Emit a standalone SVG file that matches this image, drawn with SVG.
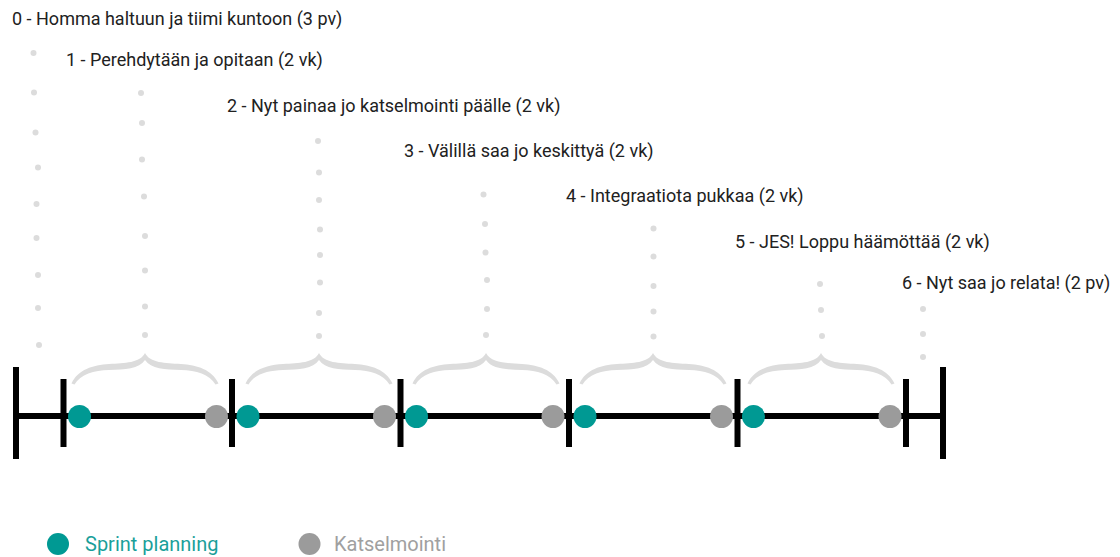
<svg xmlns="http://www.w3.org/2000/svg" width="1120" height="557" viewBox="0 0 1120 557">
  <style>
    .label { font-family: Roboto, "Liberation Sans", sans-serif; font-size: 18px; fill: #212121; }
    .legend { font-family: Roboto, "Liberation Sans", sans-serif; font-size: 20px; }
    .bar { stroke: #000; stroke-width: 6; fill: none; }
    .brace { fill: #dcdcdc; stroke: none; }
    .dot { fill: #dcdcdc; }
    .plan { fill: #009993; }
    .review { fill: #9b9b9b; }
  </style>
  <defs>
    <!-- tapered curly brace centred on x=0, spanning ~147px -->
    <path id="brace" d="M-73.5,383.5 C-67,369.5 -52,365 -36,364 C-20,363 -5,363 0,353
      C5,363 20,363 36,364 C52,365 67,369.5 73.5,383.5 L70.5,384.5
      C64.5,374 51,370.5 36,370 C20,369.5 6,369 0,360
      C-6,369 -20,369.5 -36,370 C-51,370.5 -64.5,374 -70.5,384.5 Z"/>
  </defs>

  <rect width="1120" height="557" fill="#fff"/>

  <!-- timeline axis and sprint boundaries -->
  <g id="connectors">
    <line class="bar" x1="16" y1="416" x2="943" y2="416"/>
    <line class="bar" x1="16" y1="367" x2="16" y2="459"/>
    <line class="bar" x1="943" y1="367" x2="943" y2="459"/>
    <line class="bar" x1="63.5" y1="379" x2="63.5" y2="447"/>
    <line class="bar" x1="232" y1="379" x2="232" y2="447"/>
    <line class="bar" x1="400.5" y1="379" x2="400.5" y2="447"/>
    <line class="bar" x1="569" y1="379" x2="569" y2="447"/>
    <line class="bar" x1="737.5" y1="379" x2="737.5" y2="447"/>
    <line class="bar" x1="906" y1="379" x2="906" y2="447"/>
  </g>

  <!-- sprints: planning (teal) and review (grey) with brace -->
  <g id="sprint-1">
    <use href="#brace" class="brace" x="145"/>
    <circle class="plan" cx="79.5" cy="416.5" r="11.5"/>
    <circle class="review" cx="216.5" cy="416.5" r="11.5"/>
  </g>
  <g id="sprint-2">
    <use href="#brace" class="brace" x="319"/>
    <circle class="plan" cx="248" cy="416.5" r="11.5"/>
    <circle class="review" cx="384.5" cy="416.5" r="11.5"/>
  </g>
  <g id="sprint-3">
    <use href="#brace" class="brace" x="486"/>
    <circle class="plan" cx="416.5" cy="416.5" r="11.5"/>
    <circle class="review" cx="553" cy="416.5" r="11.5"/>
  </g>
  <g id="sprint-4">
    <use href="#brace" class="brace" x="653"/>
    <circle class="plan" cx="585" cy="416.5" r="11.5"/>
    <circle class="review" cx="721.5" cy="416.5" r="11.5"/>
  </g>
  <g id="sprint-5">
    <use href="#brace" class="brace" x="821"/>
    <circle class="plan" cx="753.5" cy="416.5" r="11.5"/>
    <circle class="review" cx="890" cy="416.5" r="11.5"/>
  </g>

  <!-- phase labels with dotted leaders -->
  <g id="phase-0">
    <text class="label" x="12" y="25">0 - Homma haltuun ja tiimi kuntoon (3 pv)</text>
    <g class="dot">
      <circle cx="33.5" cy="53" r="3"/><circle cx="34" cy="92.5" r="3"/><circle cx="35.5" cy="132.5" r="3"/>
      <circle cx="38" cy="167.5" r="3"/><circle cx="36.5" cy="204" r="3"/><circle cx="36.5" cy="238" r="3"/>
      <circle cx="38" cy="275" r="3"/><circle cx="38" cy="308" r="3"/><circle cx="39" cy="345" r="3"/>
    </g>
  </g>
  <g id="phase-1">
    <text class="label" x="66" y="66">1 - Perehdytään ja opitaan (2 vk)</text>
    <g class="dot">
      <circle cx="141" cy="93" r="3"/><circle cx="142" cy="123" r="3"/><circle cx="142" cy="159.5" r="3"/>
      <circle cx="144" cy="196.5" r="3"/><circle cx="145" cy="236" r="3"/><circle cx="145" cy="270.5" r="3"/>
      <circle cx="145" cy="306.5" r="3"/><circle cx="145" cy="335" r="3"/>
    </g>
  </g>
  <g id="phase-2">
    <text class="label" x="227" y="112">2 - Nyt painaa jo katselmointi päälle (2 vk)</text>
    <g class="dot">
      <circle cx="318" cy="141" r="3"/><circle cx="319" cy="172.5" r="3"/><circle cx="319" cy="200" r="3"/>
      <circle cx="320" cy="229.5" r="3"/><circle cx="320" cy="255" r="3"/><circle cx="320" cy="282.5" r="3"/>
      <circle cx="319" cy="313" r="3"/><circle cx="319" cy="336" r="3"/>
    </g>
  </g>
  <g id="phase-3">
    <text class="label" x="404" y="157">3 - Välillä saa jo keskittyä (2 vk)</text>
    <g class="dot">
      <circle cx="483.5" cy="194.5" r="3"/><circle cx="485" cy="224" r="3"/><circle cx="485.5" cy="252.5" r="3"/>
      <circle cx="487" cy="280" r="3"/><circle cx="487" cy="309" r="3"/><circle cx="486" cy="335" r="3"/>
    </g>
  </g>
  <g id="phase-4">
    <text class="label" x="566" y="202">4 - Integraatiota pukkaa (2 vk)</text>
    <g class="dot">
      <circle cx="653.5" cy="228.5" r="3"/><circle cx="653.5" cy="256.5" r="3"/><circle cx="653.5" cy="286" r="3"/>
      <circle cx="653.5" cy="311.5" r="3"/><circle cx="653.5" cy="336.5" r="3"/>
    </g>
  </g>
  <g id="phase-5">
    <text class="label" x="735" y="248">5 - JES! Loppu häämöttää (2 vk)</text>
    <g class="dot">
      <circle cx="820" cy="284" r="3"/><circle cx="821" cy="310" r="3"/><circle cx="822" cy="336" r="3"/>
    </g>
  </g>
  <g id="phase-6">
    <text class="label" x="902" y="289">6 - Nyt saa jo relata! (2 pv)</text>
    <g class="dot">
      <circle cx="923" cy="309" r="3"/><circle cx="923" cy="334" r="3"/><circle cx="923" cy="357" r="3"/>
    </g>
  </g>

  <!-- legend -->
  <g id="legend-planning">
    <circle class="plan" cx="58" cy="544" r="11"/>
    <text class="legend" x="85" y="551" fill="#1a9f9a">Sprint planning</text>
  </g>
  <g id="legend-review">
    <circle class="review" cx="309.5" cy="544" r="11"/>
    <text class="legend" x="334" y="551" fill="#a0a0a0">Katselmointi</text>
  </g>
</svg>
